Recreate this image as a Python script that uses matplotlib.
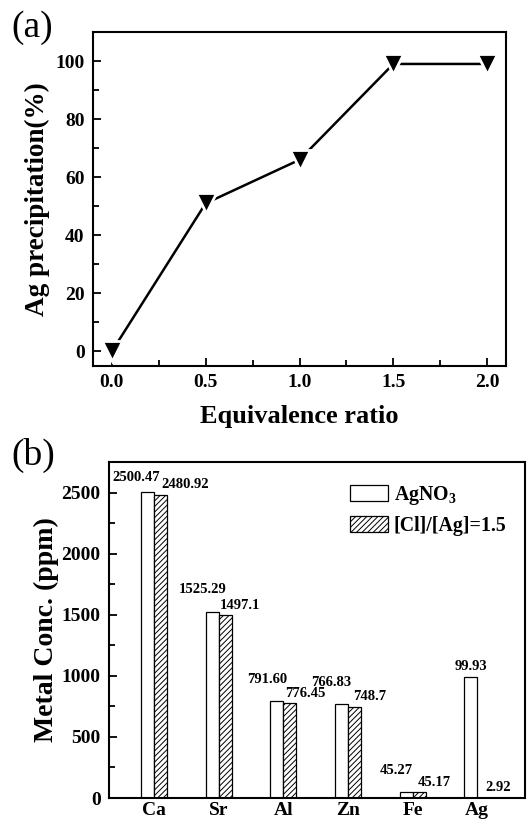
import matplotlib.pyplot as plt
import numpy as np
from matplotlib.ticker import MultipleLocator

plt.rcParams['font.family'] = ['Liberation Serif', 'DejaVu Serif']
plt.rcParams['font.weight'] = 'bold'
plt.rcParams['mathtext.fontset'] = 'custom'
plt.rcParams['mathtext.rm'] = 'Liberation Serif:bold'
plt.rcParams['mathtext.bf'] = 'Liberation Serif:bold'
plt.rcParams['hatch.linewidth'] = 0.7

# panel (a)
ratio = [0.0, 0.5, 1.0, 1.5, 2.0]
precip = [0, 51, 66, 99, 99]

# panel (b)
metals = ['Ca', 'Sr', 'Al', 'Zn', 'Fe', 'Ag']
agno3 = [2500.47, 1525.29, 791.60, 766.83, 45.27, 988]
clag = [2480.92, 1497.1, 776.45, 748.7, 45.17, 2.92]
agno3_lbl = ['2500.47', '1525.29', '791.60', '766.83', '45.27', '99.93']
clag_lbl = ['2480.92', '1497.1', '776.45', '748.7', '45.17', '2.92']

fig = plt.figure(figsize=(5.28, 8.21), dpi=100)
W, H = 528, 821

ax1 = fig.add_axes([93 / W, 1 - 366 / H, (506 - 93) / W, (366 - 32) / H])
ax1.plot(ratio, precip, color='black', lw=1.8, marker='v', ms=14,
         mfc='black', mec='white', mew=2, zorder=3)
ax1.set_xlim(-0.1, 2.1)
ax1.set_ylim(-5, 110)
ax1.xaxis.set_major_locator(MultipleLocator(0.5))
ax1.xaxis.set_minor_locator(MultipleLocator(0.25))
ax1.yaxis.set_major_locator(MultipleLocator(20))
ax1.yaxis.set_minor_locator(MultipleLocator(10))
ax1.xaxis.set_major_formatter(plt.FuncFormatter(lambda v, p: f'{v:.1f}'))
ax1.set_xlabel('Equivalence ratio', fontsize=19, fontweight='bold', labelpad=10)
ax1.set_ylabel('Ag precipitation(%)', fontsize=19.5, fontweight='bold', labelpad=4)

ax2 = fig.add_axes([109 / W, 1 - 798 / H, (525 - 109) / W, (798 - 462) / H])
x = np.arange(len(metals))
w = 0.2
ax2.bar(x - w / 2, agno3, w, color='white', edgecolor='black', lw=0.9,
        label='AgNO$_3$')
ax2.bar(x + w / 2, clag, w, color='white', edgecolor='black', lw=0.9,
        hatch='//////', label='[Cl]/[Ag]=1.5')
for i in range(len(metals)):
    dx, dy = (-10, 22) if metals[i] != 'Ag' else (0, 11)
    hx = 15
    if metals[i] == 'Ca':
        dx, dy, hx = -12, 15, 25
    ax2.annotate(agno3_lbl[i], (x[i] - w / 2, agno3[i]), xytext=(dx, dy),
                 textcoords='offset pixels', ha='center', va='center',
                 fontsize=10.5, fontweight='bold')
    ax2.annotate(clag_lbl[i], (x[i] + w / 2, clag[i]), xytext=(hx, 10),
                 textcoords='offset pixels', ha='center', va='center',
                 fontsize=10.5, fontweight='bold')
ax2.set_xlim(-0.7, 5.74)
ax2.set_ylim(0, 2750)
ax2.set_xticks(x)
ax2.set_xticklabels(metals)
ax2.yaxis.set_major_locator(MultipleLocator(500))
ax2.yaxis.set_minor_locator(MultipleLocator(250))
ax2.set_ylabel('Metal Conc. (ppm)', fontsize=20, fontweight='bold', labelpad=2)
ax2.legend(loc='upper right', bbox_to_anchor=(0.955, 0.935), frameon=False,
           fontsize=14.3, handlelength=1.9, handleheight=0.9, handletextpad=0.3,
           labelspacing=0.45, borderaxespad=0.0, borderpad=0.0)

for ax in (ax1, ax2):
    for s in ax.spines.values():
        s.set_linewidth(1.5)
    ax.tick_params(which='both', direction='in', width=1.3, labelsize=14, pad=6)
    ax.tick_params(which='major', length=6)
    ax.tick_params(which='minor', length=4)
    for t in ax.get_xticklabels() + ax.get_yticklabels():
        t.set_fontweight('bold')
ax2.tick_params(axis='x', which='both', length=0, pad=3)

fig.text(11 / W, 1 - 28 / H, '(a)', fontsize=27, fontweight='normal', va='center')
fig.text(11 / W, 1 - 455 / H, '(b)', fontsize=27, fontweight='normal', va='center')

fig.savefig('out.png', dpi=100)
